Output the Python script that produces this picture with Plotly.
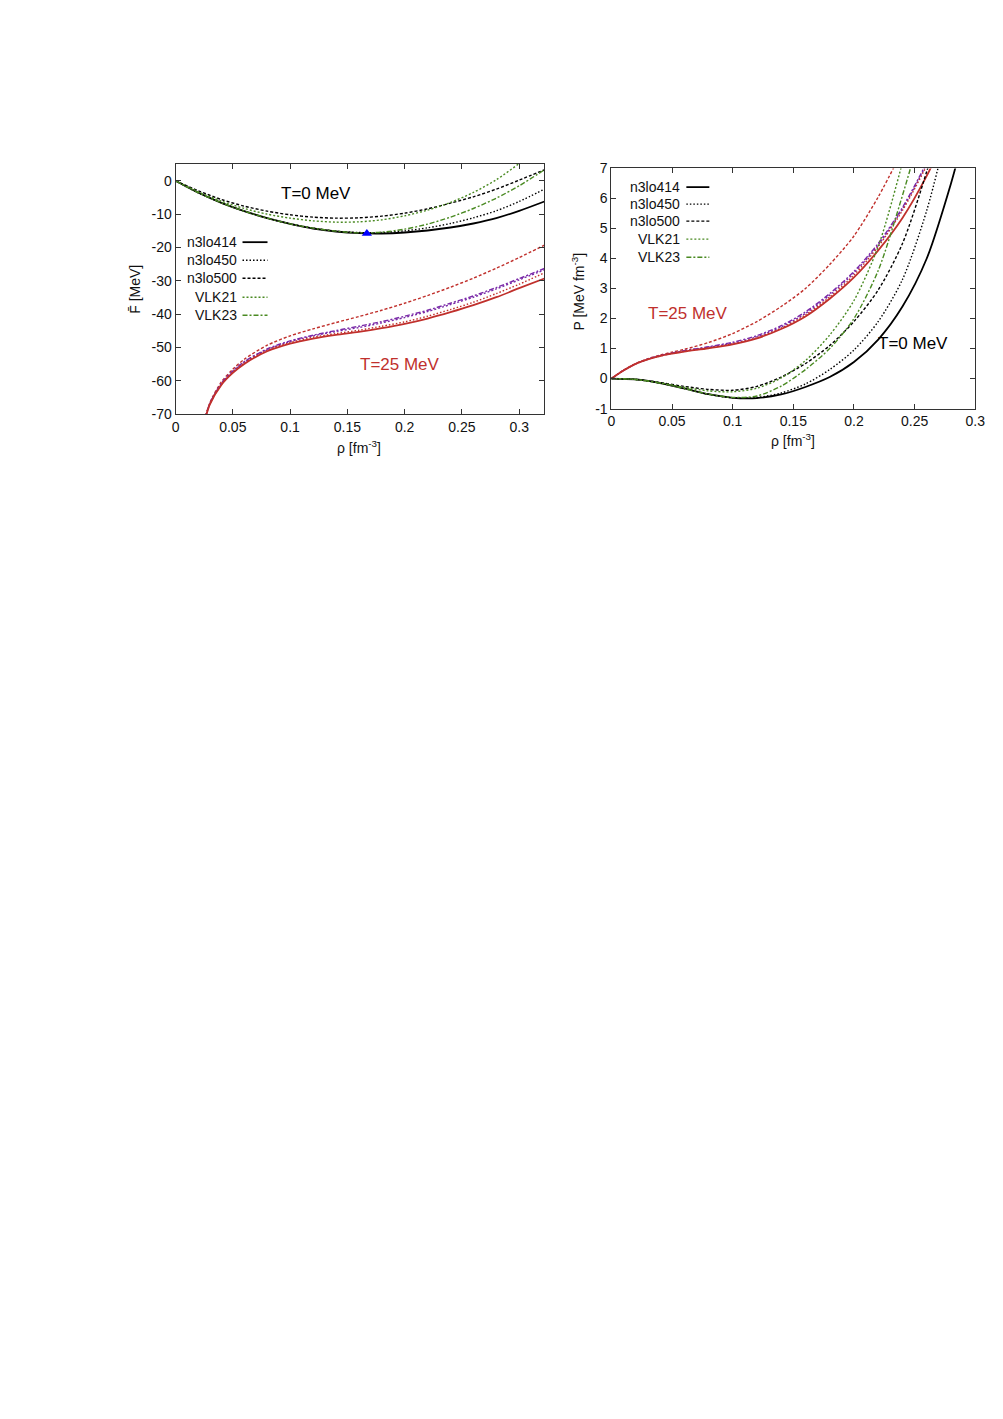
import plotly.graph_objects as go

W, H = 1003, 1419

# ---- left panel: free energy per particle, T=0 ----
rho_f0 = [0, 0.02, 0.04, 0.06, 0.08, 0.10, 0.12, 0.14, 0.16, 0.18, 0.20, 0.22, 0.24, 0.26, 0.28, 0.30, 0.322]
f0_n3lo414 = [0, -3.6, -6.6, -9.1, -11.2, -12.9, -14.3, -15.2, -15.7, -15.8, -15.5, -14.9, -14.0, -12.8, -11.2, -9.0, -6.2]
f0_n3lo450 = [0, -3.6, -6.6, -9.1, -11.2, -12.9, -14.2, -15.1, -15.5, -15.5, -15.0, -14.1, -12.8, -11.1, -9.0, -6.2, -2.5]
f0_n3lo500 = [0, -3.0, -5.6, -7.6, -9.1, -10.2, -10.9, -11.2, -11.1, -10.6, -9.7, -8.4, -6.7, -4.8, -2.5, 0.2, 3.3]
f0_vlk21 = [0, -3.3, -6.1, -8.3, -10.0, -11.2, -12.0, -12.4, -12.3, -11.7, -10.5, -8.8, -6.5, -3.5, 0.3, 5.2, 11.0]
f0_vlk23 = [0, -3.6, -6.6, -9.1, -11.2, -12.9, -14.2, -15.1, -15.6, -15.4, -14.5, -13.0, -10.9, -8.3, -5.2, -1.5, 3.3]

# ---- left panel: T=25 MeV ----
rho_f25 = [0.025, 0.03, 0.04, 0.05, 0.06, 0.08, 0.10, 0.12, 0.14, 0.16, 0.18, 0.20, 0.22, 0.24, 0.26, 0.28, 0.30, 0.322]
f25_n3lo414 = [-72.5, -67.0, -61.2, -57.6, -54.9, -51.1, -48.8, -47.3, -46.2, -45.3, -44.2, -42.9, -41.3, -39.4, -37.3, -34.9, -32.2, -29.3]
f25_n3lo450 = [-72.3, -66.8, -61.0, -57.3, -54.6, -50.8, -48.5, -46.9, -45.8, -44.8, -43.6, -42.3, -40.6, -38.6, -36.4, -33.8, -31.0, -27.6]
f25_n3lo500 = [-72.0, -66.5, -60.3, -56.5, -53.5, -49.3, -46.5, -44.4, -42.5, -40.7, -38.8, -36.7, -34.4, -31.9, -29.2, -26.2, -23.0, -19.3]
f25_vlk21 = [-72.3, -66.8, -60.9, -57.2, -54.4, -50.6, -48.2, -46.5, -45.2, -44.0, -42.6, -41.0, -39.2, -37.1, -34.9, -32.4, -29.7, -26.7]
f25_vlk23 = [-72.2, -66.7, -60.7, -57.0, -54.2, -50.4, -48.0, -46.3, -44.9, -43.6, -42.2, -40.6, -38.8, -36.7, -34.5, -32.0, -29.3, -26.3]

# saturation point
sat_rho = [0.167]
sat_f = [-15.8]

# ---- right panel: pressure, T=0 ----
rho_p0 = [0, 0.02, 0.04, 0.06, 0.08, 0.10, 0.12, 0.14, 0.16, 0.18, 0.20, 0.22, 0.24, 0.26, 0.28, 0.29]
p0_n3lo414 = [0, -0.03, -0.15, -0.33, -0.52, -0.64, -0.65, -0.53, -0.28, 0.05, 0.55, 1.3, 2.4, 4.0, 6.5, 8.0]
p0_n3lo450 = [0, -0.03, -0.15, -0.33, -0.52, -0.64, -0.63, -0.48, -0.18, 0.3, 0.95, 1.9, 3.3, 5.6, 8.8, 10.6]
p0_n3lo500 = [0, -0.03, -0.13, -0.26, -0.36, -0.39, -0.26, 0.05, 0.5, 1.1, 1.9, 2.95, 4.5, 6.9, 9.8, 11.5]
p0_vlk21 = [0, -0.03, -0.14, -0.29, -0.41, -0.44, -0.32, 0.02, 0.6, 1.45, 2.6, 4.4, 7.2]
p0_vlk23 = [0, -0.03, -0.15, -0.33, -0.52, -0.63, -0.58, -0.25, 0.3, 1.0, 2.0, 3.6, 6.1, 8.9]

# ---- right panel: T=25 MeV ----
rho_p25 = [0, 0.01, 0.02, 0.03, 0.04, 0.05, 0.06, 0.08, 0.10, 0.12, 0.14, 0.16, 0.18, 0.20, 0.22, 0.24, 0.26, 0.27]
p25_n3lo414 = [0, 0.27, 0.49, 0.64, 0.75, 0.83, 0.90, 1.01, 1.14, 1.34, 1.65, 2.07, 2.66, 3.37, 4.27, 5.35, 6.75, 7.60]
p25_n3lo450 = [0, 0.27, 0.49, 0.64, 0.75, 0.84, 0.91, 1.02, 1.16, 1.36, 1.68, 2.12, 2.72, 3.45, 4.40, 5.60, 7.10, 8.00]
p25_n3lo500 = [0, 0.28, 0.50, 0.66, 0.78, 0.88, 0.97, 1.20, 1.50, 1.90, 2.40, 3.00, 3.80, 4.75, 6.05, 7.60]
p25_vlk21 = [0, 0.27, 0.49, 0.64, 0.75, 0.84, 0.92, 1.04, 1.18, 1.39, 1.72, 2.17, 2.78, 3.52, 4.45, 5.65, 7.15, 8.00]
p25_vlk23 = [0, 0.27, 0.49, 0.65, 0.76, 0.85, 0.93, 1.06, 1.21, 1.43, 1.76, 2.22, 2.83, 3.57, 4.50, 5.70, 7.20, 8.10]

legend_names = ["n3lo414", "n3lo450", "n3lo500", "VLK21", "VLK23"]
rho_ticks = [0, 0.05, 0.1, 0.15, 0.2, 0.25, 0.3]
rho_ticktext = ["0", "0.05", "0.1", "0.15", "0.2", "0.25", "0.3"]
f_ticks = [0, -10, -20, -30, -40, -50, -60, -70]
p_ticks = [-1, 0, 1, 2, 3, 4, 5, 6, 7]

BLACK = "#000000"
GREEN = "#4a8a22"
RED = "#c0302c"
PURPLE = "#7a2aa8"
FONT = "Liberation Sans, Arial, sans-serif"

# dash pattern per interaction
dashes = {
    "n3lo414": "solid",
    "n3lo450": "1.5px,2px",
    "n3lo500": "3px,2px",
    "VLK21": "2px,2px",
    "VLK23": "5px,2px,2px,2px",
}
widths = {"n3lo414": 1.8, "n3lo450": 1.4, "n3lo500": 1.4, "VLK21": 1.4, "VLK23": 1.4}


# page pixel -> paper fraction (small correction for how the page ends up photographed)
def px(x):
    return (x - 3.4) / 0.9864 / W


def py(y):
    return 1 - (y - 7.0) / 0.988 / H


fig = go.Figure()


def add_curve(x, y, name, color, xa, ya):
    fig.add_trace(go.Scatter(
        x=x[:len(y)], y=y, mode="lines", name=name, showlegend=False,
        line=dict(color=color, width=widths[name], dash=dashes[name], shape="spline", smoothing=0.8),
        xaxis=xa, yaxis=ya, hoverinfo="skip"))


# left panel curves (T=25 first so T=0 sits on top)
add_curve(rho_f25, f25_n3lo500, "n3lo500", RED, "x", "y")
add_curve(rho_f25, f25_vlk23, "VLK23", PURPLE, "x", "y")
add_curve(rho_f25, f25_vlk21, "VLK21", PURPLE, "x", "y")
add_curve(rho_f25, f25_n3lo450, "n3lo450", RED, "x", "y")
add_curve(rho_f25, f25_n3lo414, "n3lo414", RED, "x", "y")
add_curve(rho_f0, f0_n3lo500, "n3lo500", BLACK, "x", "y")
add_curve(rho_f0, f0_n3lo450, "n3lo450", BLACK, "x", "y")
add_curve(rho_f0, f0_n3lo414, "n3lo414", BLACK, "x", "y")
add_curve(rho_f0, f0_vlk21, "VLK21", GREEN, "x", "y")
add_curve(rho_f0, f0_vlk23, "VLK23", GREEN, "x", "y")
fig.add_trace(go.Scatter(x=sat_rho, y=sat_f, mode="markers", showlegend=False,
                         marker=dict(symbol="triangle-up", size=9, color="#0000ff"),
                         xaxis="x", yaxis="y", hoverinfo="skip"))

# right panel curves
add_curve(rho_p25, p25_n3lo500, "n3lo500", RED, "x2", "y2")
add_curve(rho_p25, p25_vlk23, "VLK23", PURPLE, "x2", "y2")
add_curve(rho_p25, p25_vlk21, "VLK21", PURPLE, "x2", "y2")
add_curve(rho_p25, p25_n3lo450, "n3lo450", RED, "x2", "y2")
add_curve(rho_p25, p25_n3lo414, "n3lo414", RED, "x2", "y2")
add_curve(rho_p0, p0_n3lo500, "n3lo500", BLACK, "x2", "y2")
add_curve(rho_p0, p0_n3lo450, "n3lo450", BLACK, "x2", "y2")
add_curve(rho_p0, p0_n3lo414, "n3lo414", BLACK, "x2", "y2")
add_curve(rho_p0, p0_vlk21, "VLK21", GREEN, "x2", "y2")
add_curve(rho_p0, p0_vlk23, "VLK23", GREEN, "x2", "y2")

axis_common = dict(
    showline=True, linecolor="#333333", linewidth=1, mirror="ticks",
    ticks="inside", ticklen=5, tickcolor="#333333", showgrid=False, zeroline=False,
    tickfont=dict(family=FONT, size=14, color="#111111"),
)

fig.update_layout(
    width=W, height=H, margin=dict(l=0, r=0, t=0, b=0),
    paper_bgcolor="white", plot_bgcolor="white", showlegend=False,
    xaxis=dict(axis_common, domain=[px(175), px(544)], range=[0, 0.322], anchor="y",
               tickvals=rho_ticks, ticktext=rho_ticktext),
    yaxis=dict(axis_common, domain=[py(413), py(163)], range=[-70, 5], anchor="x",
               tickvals=f_ticks, ticktext=[str(v) for v in f_ticks]),
    xaxis2=dict(axis_common, domain=[px(611), px(975)], range=[0, 0.3], anchor="y2",
                tickvals=rho_ticks, ticktext=rho_ticktext),
    yaxis2=dict(axis_common, domain=[py(407.3), py(167.3)], range=[-1, 7], anchor="x2",
                tickvals=p_ticks, ticktext=[str(v) for v in p_ticks]),
)

annotations = [
    dict(x=px(359), y=py(446), text="ρ [fm<sup>-3</sup>]", textangle=0),
    dict(x=px(135), y=py(288), text="F\u0304 [MeV]", textangle=-90),
    dict(x=px(793), y=py(439), text="ρ [fm<sup>-3</sup>]", textangle=0),
    dict(x=px(578), y=py(290), text="P [MeV fm<sup>-3</sup>]", textangle=-90),
]
for a in annotations:
    fig.add_annotation(xref="paper", yref="paper", showarrow=False,
                       xanchor="center", yanchor="middle",
                       font=dict(family=FONT, size=14, color="#111111"), **a)

# panel labels
fig.add_annotation(x=0.123, y=-3.9, xref="x", yref="y", text="T=0 MeV", showarrow=False,
                   font=dict(family=FONT, size=17, color="#000000"))
fig.add_annotation(x=0.196, y=-55.0, xref="x", yref="y", text="T=25 MeV", showarrow=False,
                   font=dict(family=FONT, size=17, color=RED))
fig.add_annotation(x=0.0635, y=2.18, xref="x2", yref="y2", text="T=25 MeV", showarrow=False,
                   font=dict(family=FONT, size=17, color=RED))
fig.add_annotation(x=0.249, y=1.18, xref="x2", yref="y2", text="T=0 MeV", showarrow=False,
                   font=dict(family=FONT, size=17, color="#000000"))

# in-plot legends: label on the left, line sample on the right
legend_colors = [BLACK, BLACK, BLACK, GREEN, GREEN]
legend_boxes = [
    dict(text_right=238, x0=242, x1=267, rows=[241, 259, 277, 296, 314]),
    dict(text_right=682, x0=686, x1=709, rows=[186, 203, 220, 238, 256]),
]
for box in legend_boxes:
    for name, col, yrow in zip(legend_names, legend_colors, box["rows"]):
        fig.add_annotation(x=px(box["text_right"]), y=py(yrow), xref="paper", yref="paper",
                           text=name, showarrow=False, xanchor="right", yanchor="middle",
                           font=dict(family=FONT, size=14, color="#111111"))
        fig.add_shape(type="line", xref="paper", yref="paper",
                      x0=px(box["x0"]), x1=px(box["x1"]), y0=py(yrow), y1=py(yrow),
                      line=dict(color=col, width=widths[name], dash=dashes[name]))

fig.write_html("out.html", config={"displayModeBar": False},
               post_script="document.body.style.margin='0px';document.body.style.overflow='hidden';")
